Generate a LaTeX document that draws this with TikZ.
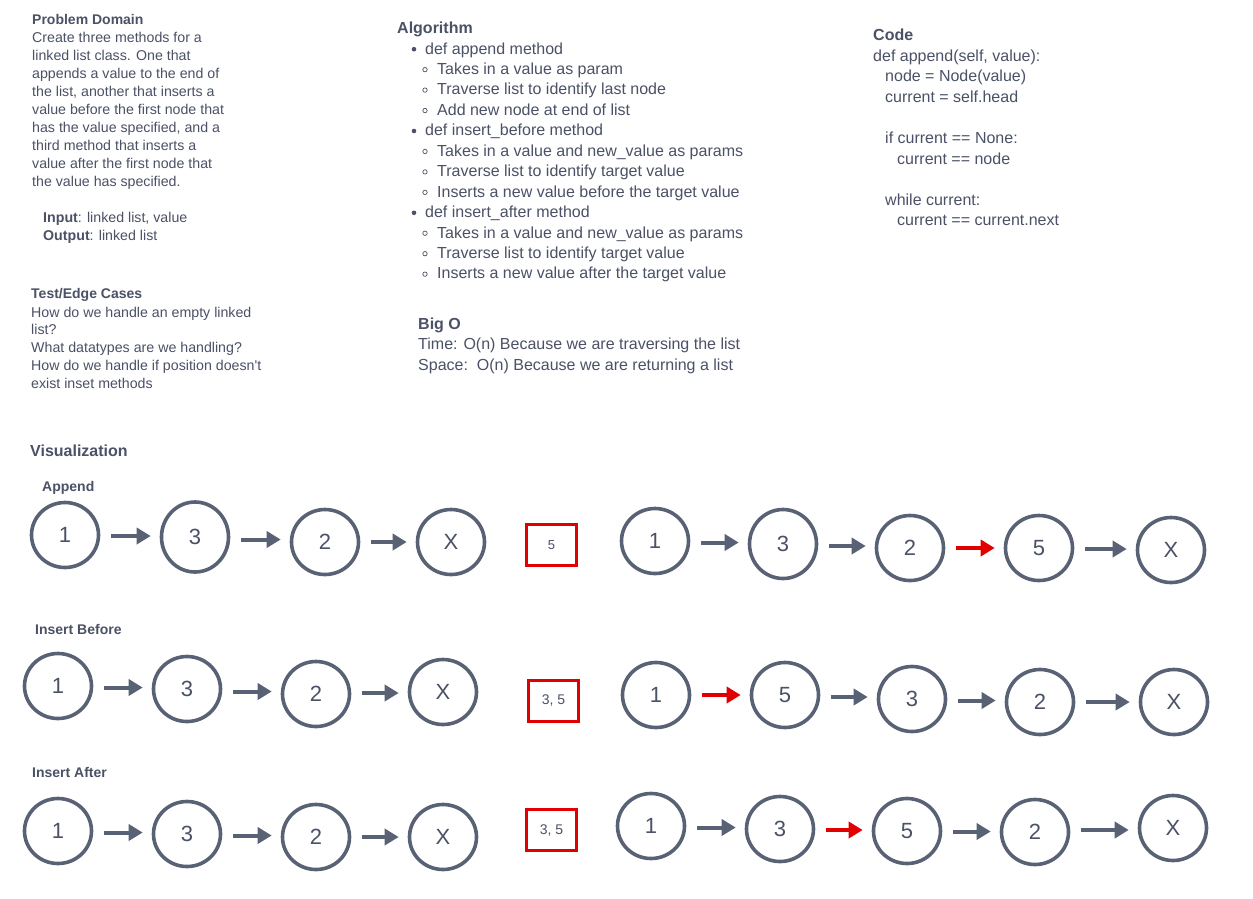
\documentclass[tikz,border=0pt]{standalone}
\usepackage{fontspec}
\setmainfont{Liberation Sans}
\usetikzlibrary{shapes.geometric,arrows.meta,calc}
\definecolor{tcol}{HTML}{4B5166}
\definecolor{ncol}{HTML}{596175}
\definecolor{rcol}{HTML}{E00000}
\tikzset{
  txt/.style={anchor=base west, inner sep=0pt, text=tcol},
  body/.style={txt, font=\fontsize{14.2}{17}\selectfont},
  hd/.style={txt, font=\bfseries\fontsize{14}{17}\selectfont},
  big/.style={txt, font=\fontsize{16}{20}\selectfont},
  bighd/.style={txt, font=\bfseries\fontsize{16}{20}\selectfont},
  lnode/.style={ellipse, draw=ncol, line width=3.6pt, minimum width=67pt, minimum height=65pt, inner sep=0pt, text=tcol, font=\fontsize{22}{22}\selectfont},
  arr/.style={draw=ncol, line width=4pt, -{Triangle[length=14pt,width=16pt]}, shorten <=11pt, shorten >=9pt},
  rarr/.style={arr, draw=rcol},
  rbox/.style={rectangle, draw=rcol, line width=3pt, minimum width=50pt, minimum height=41pt, inner sep=0pt, text=tcol},
  bdot/.style={fill=tcol},
  hdot/.style={draw=tcol, line width=0.7pt}
}
\newcommand\conn[3][arr]{%
  \coordinate (m#2#3) at ($(#2.east)!.5!(#3.west)$);
  \draw[#1] (#2.east |- m#2#3) -- (#3.west |- m#2#3);}
\begin{document}
\begin{tikzpicture}[x=1pt,y=-1pt]
\useasboundingbox[fill=white] (0,0) rectangle (1253,898);

% Problem Domain
\node[hd] (pdt) at (32,24) {Problem Domain};
\foreach \t [count=\i] in {{Create three methods for a},{linked list class. One that},{appends a value to the end of},{the list, another that inserts a},{value before the first node that},{has the value specified, and a},{third method that inserts a},{value after the first node that},{the value has specified.}}
  \node[body] (pd\i) at (32,42+18*\i-18) {\t};
\node[body] (pin) at (43,222) {\textbf{Input}: linked list, value};
\node[body] (pout) at (43,240) {\textbf{Output}: linked list};

% Test/Edge Cases
\node[hd] (tet) at (31,298) {Test/Edge Cases};
\foreach \t [count=\i] in {{How do we handle an empty linked},{list?},{What datatypes are we handling?},{How do we handle if position doesn\textquotesingle t},{exist inset methods}}
  \node[body] (te\i) at (31,317+17.8*\i-17.8) {\t};

% Algorithm
\node[bighd] (alt) at (397,33) {Algorithm};
\foreach \t/\lv [count=\i] in {{def append method}/0,{Takes in a value as param}/1,{Traverse list to identify last node}/1,{Add new node at end of list}/1,{def insert\_before method}/0,{Takes in a value and new\_value as params}/1,{Traverse list to identify target value}/1,{Inserts a new value before the target value}/1,{def insert\_after method}/0,{Takes in a value and new\_value as params}/1,{Traverse list to identify target value}/1,{Inserts a new value after the target value}/1}
{
  \pgfmathsetmacro{\yy}{54+20.45*(\i-1)}
  \ifnum\lv=0
    \fill[bdot] (414,\yy-4.8) circle (2.3);
    \node[big] (al\i) at (425,\yy) {\t};
  \else
    \draw[hdot] (425,\yy-4.8) circle (2.2);
    \node[big] (al\i) at (437,\yy) {\t};
  \fi
}

% Big O
\node[bighd] (bot) at (418,329) {Big O};
\node[big] (bo1) at (418,349.5) {Time: O(n) Because we are traversing the list};
\node[big] (bo2) at (418,370) {Space:\ \ O(n) Because we are returning a list};

% Code
\node[bighd] (cdt) at (873,40) {Code};
\node[big] (cd1) at (873,61) {def append(self, value):};
\node[big] (cd2) at (885,81.6) {node = Node(value)};
\node[big] (cd3) at (885,102.2) {current = self.head};
\node[big] (cd4) at (885,143.4) {if current == None:};
\node[big] (cd5) at (897,164) {current == node};
\node[big] (cd6) at (885,205.2) {while current:};
\node[big] (cd7) at (897,225.8) {current == current.next};

% Visualization
\node[bighd] (vis) at (30,456) {Visualization};
\node[hd] (lap) at (42,491) {Append};
\node[hd] (lib) at (35,634) {Insert Before};
\node[hd] (lia) at (32,777) {Insert After};

% Row 1 : Append
\node[lnode] (a1) at (65,535) {1};
\node[lnode, minimum height=70pt] (a2) at (195,537) {3};
\node[lnode] (a3) at (325,542) {2};
\node[lnode] (a4) at (451,542) {X};
\conn{a1}{a2}
\conn{a2}{a3}
\conn{a3}{a4}
\node[rbox, font=\fontsize{13}{13}\selectfont] (ab) at (551.5,545) {5};
\node[lnode] (b1) at (655,541) {1};
\node[lnode, minimum height=69pt] (b2) at (783,544) {3};
\node[lnode] (b3) at (910,548) {2};
\node[lnode] (b4) at (1039,548) {5};
\node[lnode] (b5) at (1171,550) {X};
\conn{b1}{b2}
\conn{b2}{b3}
\conn[rarr]{b3}{b4}
\conn{b4}{b5}

% Row 2 : Insert Before
\node[lnode] (c1) at (58,686) {1};
\node[lnode] (c2) at (187,689) {3};
\node[lnode] (c3) at (316,694) {2};
\node[lnode] (c4) at (443,692) {X};
\conn{c1}{c2}
\conn{c2}{c3}
\conn{c3}{c4}
\node[rbox, font=\fontsize{14}{14}\selectfont] (cb) at (553.5,700.5) {3, 5};
\node[lnode] (d1) at (656,695) {1};
\node[lnode] (d2) at (785,695) {5};
\node[lnode] (d3) at (912,699) {3};
\node[lnode] (d4) at (1040,702) {2};
\node[lnode] (d5) at (1174,702) {X};
\conn[rarr]{d1}{d2}
\conn{d2}{d3}
\conn{d3}{d4}
\conn{d4}{d5}

% Row 3 : Insert After
\node[lnode] (e1) at (58,831) {1};
\node[lnode] (e2) at (187,834) {3};
\node[lnode] (e3) at (316,837) {2};
\node[lnode] (e4) at (443,837) {X};
\conn{e1}{e2}
\conn{e2}{e3}
\conn{e3}{e4}
\node[rbox, font=\fontsize{14}{14}\selectfont] (eb) at (551.5,830) {3, 5};
\node[lnode] (f1) at (651,826) {1};
\node[lnode] (f2) at (780,829) {3};
\node[lnode] (f3) at (907,831) {5};
\node[lnode] (f4) at (1035,832) {2};
\node[lnode] (f5) at (1173,828) {X};
\conn{f1}{f2}
\conn[rarr]{f2}{f3}
\conn{f3}{f4}
\conn{f4}{f5}
\end{tikzpicture}
\end{document}
